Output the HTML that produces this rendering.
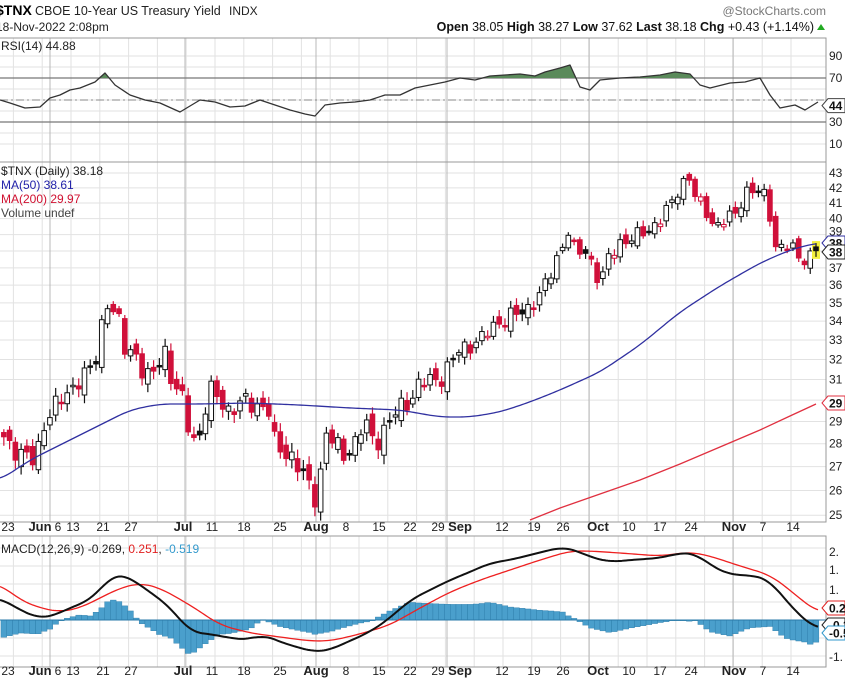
<!DOCTYPE html>
<html><head><meta charset="utf-8"><style>
body{margin:0;background:#fff;width:845px;height:684px;overflow:hidden;font-family:"Liberation Sans",sans-serif}
svg text{font-family:"Liberation Sans",sans-serif}
</style></head><body>
<svg id="s" width="845" height="684" xmlns="http://www.w3.org/2000/svg">
<rect width="845" height="684" fill="#fff"/>
<g id="grid"></g><g id="plots"></g>
<text x="-4" y="15" font-size="14" font-weight="bold" fill="#000">$TNX</text>
<text x="35" y="15" font-size="12.5" fill="#222">CBOE 10-Year US Treasury Yield</text>
<text x="229" y="15" font-size="12" fill="#222">INDX</text>
<text x="826" y="15" font-size="12" fill="#777" text-anchor="end">@StockCharts.com</text>
<text x="-4" y="31" font-size="12" fill="#222">18-Nov-2022 2:08pm</text>
<text x="814" y="31" font-size="12.5" fill="#111" text-anchor="end"><tspan font-weight="bold">Open</tspan> 38.05 <tspan font-weight="bold">High</tspan> 38.27 <tspan font-weight="bold">Low</tspan> 37.62 <tspan font-weight="bold">Last</tspan> 38.18 <tspan font-weight="bold">Chg</tspan> +0.43 (+1.14%)</text>
<polygon points="817,30 825,30 821,24" fill="#2a2"/>
<text x="1" y="50" font-size="12" fill="#222">RSI(14) 44.88</text>
<text x="1" y="175" font-size="12" fill="#222">$TNX (Daily) 38.18</text>
<text x="1" y="189" font-size="12" fill="#2222aa">MA(50) 38.61</text>
<text x="1" y="203" font-size="12" fill="#d01030">MA(200) 29.97</text>
<text x="1" y="217" font-size="12" fill="#444">Volume undef</text>
<text x="1" y="553" font-size="12" fill="#222">MACD(12,26,9) -0.269, <tspan fill="#e02020">0.251</tspan>, <tspan fill="#3399cc">-0.519</tspan></text>
</svg>
<script>
const S=document.getElementById('s'),G=document.getElementById('grid'),P=document.getElementById('plots');
const NS='http://www.w3.org/2000/svg';
function el(p,t,a,txt){const e=document.createElementNS(NS,t);for(const k in a)e.setAttribute(k,a[k]);if(txt!==undefined)e.textContent=txt;p.appendChild(e);return e;}
const R=826;
const panels=[[38,162],[162,522],[536,667]];
const yP=p=>173+(Math.log(43)-Math.log(p))*631;
const yR=v=>100-(v-50)*1.1;
for(let v=10;v<=90;v+=10) el(G,'line',{x1:0,x2:R,y1:yR(v),y2:yR(v),stroke:'#e2e2e2'});
for(let p=25;p<=43;p++) el(G,'line',{x1:0,x2:R,y1:yP(p),y2:yP(p),stroke:'#e2e2e2'});
for(let v=-1;v<=2;v+=0.5) el(G,'line',{x1:0,x2:R,y1:620-v*36,y2:620-v*36,stroke:'#e2e2e2'});
const weeks=[];for(let x=791;x>0;x-=28.8)weeks.push(x);
const majors=[50,185,316,447,589,733];
panels.forEach(([a,b])=>{weeks.forEach(x=>el(G,'line',{x1:x,x2:x,y1:a,y2:b,stroke:'#e2e2e2'}));majors.forEach(x=>el(G,'line',{x1:x,x2:x,y1:a,y2:b,stroke:'#b8b8b8'}));
 el(G,'rect',{x:-1,y:a,width:R+1,height:b-a,fill:'none',stroke:'#999'});});
el(G,'line',{x1:0,x2:R,y1:yR(70),y2:yR(70),stroke:'#777','stroke-width':1.3});
el(G,'line',{x1:0,x2:R,y1:yR(30),y2:yR(30),stroke:'#777','stroke-width':1.3});
el(G,'line',{x1:0,x2:R,y1:yR(50),y2:yR(50),stroke:'#888','stroke-dasharray':'8,3,2,3'});
[[90],[70],[30],[10]].forEach(([v])=>el(S,'text',{x:829,y:yR(v)+4,'font-size':12,fill:'#222'},v));
for(let p=25;p<=43;p++){if(p==30||p==38||p==39)continue;el(S,'text',{x:829,y:yP(p)+4,'font-size':12,fill:'#222'},p);}
el(S,'text',{x:829,y:yP(39)+1,'font-size':12,fill:'#222'},39);
[['2.',552],['1.',570],['1.',590],['0.',605],['-1.',657]].forEach(([t,y])=>el(S,'text',{x:829,y:y+4,'font-size':12,fill:'#222'},t));
const dl=[['23',8],['Jun',40,1],['6',58],['13',73],['21',103],['27',131],['Jul',183,1],['11',212],['18',244],['25',280],['Aug',316,1],['8',346],['15',379],['22',410],['29',438],['Sep',460,1],['12',502],['19',534],['26',563],['Oct',598,1],['10',629],['17',660],['24',691],['Nov',734,1],['7',763],['14',793]];
[531,675].forEach(y=>dl.forEach(([t,x,b])=>el(S,'text',{x:x,y:y,'font-size':b?13:12,'font-weight':b?'bold':'normal','text-anchor':'middle',fill:'#222'},t)));
function interp(pts,x){if(x<=pts[0][0])return pts[0][1];for(let i=1;i<pts.length;i++){if(x<=pts[i][0]){const[a,b]=pts[i-1],[c,d]=pts[i];return b+(d-b)*(x-a)/(c-a);}}return pts[pts.length-1][1];}
function path(pts,col,w){el(P,'polyline',{points:pts.map(p=>p.join(',')).join(' '),fill:'none',stroke:col,'stroke-width':w||1.3,'stroke-linejoin':'round'});}
function smooth(pts){const o=[];for(let x=pts[0][0];x<=pts[pts.length-1][0];x+=2){let s=0,n=0;for(let d=-12;d<=12;d+=2){s+=interp(pts,Math.min(pts[pts.length-1][0],Math.max(pts[0][0],x+d)));n++;}o.push([x,s/n]);}return o;}
const rsi=[[0,100],[10,103],[25,108],[40,107],[50,98],[60,95],[70,90],[80,88],[95,82],[105,73],[115,85],[130,95],[145,100],[160,103],[180,112],[200,100],[215,102],[230,107],[245,106],[260,100],[275,105],[290,110],[305,114],[315,116],[325,105],[340,103],[355,102],[370,100],[385,95],[400,95],[415,88],[430,85],[445,82],[460,78],[475,80],[490,76],[505,75],[520,74],[535,76],[545,72],[560,68],[570,65],[580,87],[590,90],[600,80],[620,78],[640,77],[660,75],[675,72],[690,74],[700,85],[710,88],[730,83],[745,82],[760,78],[770,95],[780,108],[795,105],[805,110],[818,102]];
const dense=[];for(let x=0;x<=818;x+=1)dense.push([x,interp(rsi,x)]);
let poly=[];dense.forEach(([x,y])=>{if(y<yR(70)){poly.push([x,y]);}else if(poly.length){el(P,'polygon',{points:[[poly[0][0],yR(70)],...poly,[poly[poly.length-1][0],yR(70)]].map(p=>p.join(',')).join(' '),fill:'#5a8a5a'});poly=[];}});
path(rsi,'#333',1.3);
const kp=[[0,28.5],[20,27.5],[35,27.3],[45,29],[60,30],[80,31],[95,31.7],[100,33.5],[107,35],[118,34.2],[125,32.5],[135,32.5],[140,31.5],[150,31],[160,32],[165,32.5],[172,30.8],[183,30],[190,28.5],[198,28],[205,29.5],[210,30.5],[218,30.2],[230,29.4],[245,30],[260,29.7],[268,29.6],[275,28],[290,27.5],[305,26.5],[315,25.8],[320,26.5],[325,28.5],[335,28],[345,27.5],[355,28],[365,29],[375,28],[390,29],[400,29.7],[410,30],[420,30.8],[430,31],[440,31],[460,32.5],[480,33],[495,33.8],[510,34.3],[525,34.5],[540,35.5],[550,36.5],[560,38],[570,39.5],[575,37.8],[585,38],[595,37],[600,36],[608,37.5],[620,38.5],[640,39],[650,39.3],[660,40],[672,41],[680,42],[688,43],[695,41.5],[705,40.5],[715,39.5],[725,40],[735,40.2],[748,42],[760,41.7],[767,41.3],[775,38.3],[790,38.3],[800,37.5],[808,37.6],[816,38.2]];
const xs=[];for(let x=816;x>=0;x-=5.76)xs.unshift(x);
let prev=interp(kp,xs[0]-5);
xs.forEach((x,i)=>{const c=interp(kp,x)+0.35*Math.sin(i*2.3)+0.15*Math.sin(i*5.1);const o=prev+0.3*Math.sin(i*1.7);
 const hi=Math.max(o,c)+0.15+0.25*Math.abs(Math.sin(i*3.3)),lo=Math.min(o,c)-0.15-0.25*Math.abs(Math.cos(i*2.9));
 const red=c<prev,col=red?'#d0103a':'#111';
 if(i==xs.length-1)el(P,'rect',{x:x-4,y:yP(hi)-2,width:8,height:yP(lo)-yP(hi)+4,fill:'#f2f040'});
 el(P,'line',{x1:x,x2:x,y1:yP(hi),y2:yP(lo),stroke:col,'stroke-width':1.2});
 const t=yP(Math.max(o,c)),h=Math.max(1.5,yP(Math.min(o,c))-t);
 el(P,'rect',{x:x-2.3,y:t,width:4.6,height:h,fill:(c<o)?col:'#fff',stroke:col,'stroke-width':1});
 prev=c;});
path(smooth([[0,480],[30,460],[60,445],[100,425],[130,410],[160,404],[200,404],[250,403],[300,405],[350,408],[400,410],[440,417],[470,417],[500,412],[530,402],[560,390],[600,372],[640,345],[680,312],[720,286],[760,263],[790,250],[816,243]]),'#3030a0',1.3);
path([[530,520],[560,508],[600,494],[640,480],[680,464],[720,447],[760,430],[790,416],[816,404]],'#e03040',1.3);
const mb=[[0,598],[20,610],[38,618],[50,617],[70,608],[90,600],[100,590],[110,577],[120,574],[130,578],[150,592],[170,607],[190,632],[210,634],[230,638],[250,640],[262,634],[280,642],[300,648],[315,652],[330,650],[345,643],[370,632],[390,618],[410,600],[430,590],[450,580],[470,572],[490,563],[510,560],[530,555],[550,550],[563,547],[575,550],[590,557],[610,562],[630,560],[660,558],[680,553],[695,553],[710,565],[730,575],[750,575],[770,580],[785,600],[800,615],[812,627],[818,628]];
const ms=[[0,584],[20,600],[40,608],[60,612],[80,608],[100,598],[120,588],[140,583],[160,588],[190,605],[220,625],[250,633],[280,637],[310,641],[330,641],[360,634],[390,625],[420,608],[450,592],[480,580],[510,570],[540,560],[570,551],[590,551],[620,553],[660,556],[690,552],[710,556],[740,566],[770,575],[790,590],[805,603],[818,612]];
xs.forEach(x=>{const d=(interp(ms,x)-interp(mb,x))*1.3;el(P,'rect',{x:x-2.9,y:Math.min(620,620-d),width:5.76,height:Math.max(0.8,Math.abs(d)),fill:'#4a9fcc',stroke:'#2a7aa8','stroke-width':0.4});});
el(P,'line',{x1:0,x2:R,y1:620,y2:620,stroke:'#2a7aa8'});
path(smooth(ms),'#ee2020',1.3);path(smooth(mb),'#111',2);
function tag(y,t,col,fill){const x=822;el(S,'polygon',{points:`${x},${y} ${x+6},${y-7} 845,${y-7} 845,${y+7} ${x+6},${y+7}`,fill:fill||'#fff',stroke:col});el(S,'text',{x:x+7,y:y+4.5,'font-size':12,'font-weight':'bold',fill:'#111'},t);}
tag(yR(44.88),'44','#444');
tag(243,'38','#3030a0');tag(252,'38','#222');
tag(403,'29','#e03040');
tag(608,'0.2','#e02020');tag(625,'-0.2','#222');tag(633,'-0.5','#3399cc');
</script>
</body></html>
